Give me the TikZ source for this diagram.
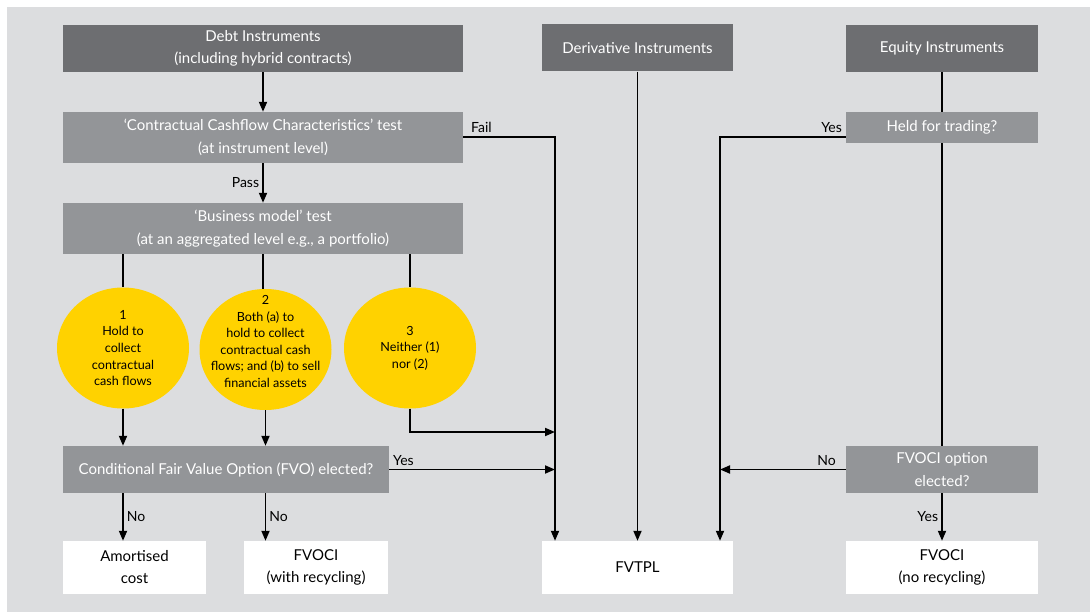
\documentclass[tikz,border=0pt]{standalone}
\usepackage{fontspec}
\setmainfont{Lato}
\usetikzlibrary{positioning,shapes.geometric,arrows.meta}
\definecolor{panelgrey}{HTML}{DCDDDF}
\definecolor{darkgrey}{HTML}{6D6E71}
\definecolor{midgrey}{HTML}{939598}
\definecolor{discyellow}{HTML}{FFD200}
\tikzset{
    head-box/.style = {fill=darkgrey, text=white, rectangle, align=center, inner sep=2pt, minimum height=47pt, font=\fontsize{15}{22}\selectfont},
    test-box/.style = {fill=midgrey, text=white, rectangle, align=center, inner sep=2pt, font=\fontsize{15}{23}\selectfont},
    result-box/.style = {fill=white, text=black, rectangle, align=center, inner sep=2pt, minimum height=53pt, font=\fontsize{15}{22}\selectfont},
    model-disc/.style = {ellipse, fill=discyellow, minimum width=132pt, minimum height=121pt, inner sep=0pt},
    disc-text/.style = {align=center, inner sep=0pt, font=\fontsize{12.6}{16.6}\selectfont},
    link/.style = {line width=1.8pt},
    flow/.style = {link, -{Triangle[length=10pt,width=8pt]}},
    tag/.style = {font=\fontsize{14}{16}\selectfont, inner sep=3pt},
}
\begin{document}
\begin{tikzpicture}[x=1pt,y=-1pt]
\useasboundingbox (0,0) rectangle (1090,612);
\fill[panelgrey] (7,7) rectangle (1090,612);

\node [head-box, minimum width=400pt] (debt) at (263,48.5) {Debt Instruments\\(including hybrid contracts)};
\node [test-box, minimum width=400pt, minimum height=51pt] (ccc) at (263,137.5) {‘Contractual Cashflow Characteristics’ test\\(at instrument level)};
\node [test-box, minimum width=400pt, minimum height=51pt] (bm) at (263,228.5) {‘Business model’ test\\(at an aggregated level e.g., a portfolio)};

\node [model-disc] (c1) at (123,348) {};
\node [model-disc] (c2) at (265.5,349.5) {};
\node [model-disc] (c3) at (410,348) {};
\node [disc-text] (c1-text) at (c1) {1\\Hold to\\collect\\contractual\\cash flows};
\node [disc-text] (c2-text) at ([yshift=8pt]c2.center) {2\\Both (a) to\\hold to collect\\contractual cash\\flows; and (b) to sell\\financial assets};
\node [disc-text] (c3-text) at (c3) {3\\Neither (1)\\nor (2)};

\node [test-box, minimum width=326pt, minimum height=47pt] (fvo) at (226,469.5) {Conditional Fair Value Option (FVO) elected?};
\node [result-box, minimum width=143pt] (amort) at (134.5,567.5) {Amortised\\cost};
\node [result-box, minimum width=144pt] (fvoci-r) at (316,567.5) {FVOCI\\(with recycling)};

\node [head-box, minimum width=191pt] (deriv) at (637.5,48) {Derivative Instruments};
\node [result-box, minimum width=191pt] (fvtpl) at (637.5,567.5) {FVTPL};

\node [head-box, minimum width=192pt] (equity) at (942,48.5) {Equity Instruments};
\node [test-box, minimum width=192pt, minimum height=31pt] (hft) at (942,127.5) {Held for trading?};
\node [test-box, minimum width=192pt, minimum height=47pt] (option) at (942,469.5) {FVOCI option\\elected?};
\node [result-box, minimum width=192pt] (fvoci-n) at (942,567.5) {FVOCI\\(no recycling)};

\coordinate (fail-turn) at (555,137);
\coordinate (yes-turn) at (720,137);
\coordinate (c3-bend) at (410,432);

\draw[flow] (debt) -- (ccc);
\draw[flow] (ccc) -- node[tag, left] {Pass} (bm);
\draw[link] (bm.south -| c1.north) -- (c1.north);
\draw[link] (bm.south) -- (bm.south |- c2.north);
\draw[link] (bm.south -| c3.north) -- (c3.north);
\draw[flow] (c1.south) -- (c1.south |- fvo.north);
\draw[flow] (c2.south) -- (c2.south |- fvo.north);
\draw[flow] (c1.south |- fvo.south) -- node[tag, right] {No} (c1.south |- amort.north);
\draw[flow] (c2.south |- fvo.south) -- node[tag, right] {No} (c2.south |- fvoci-r.north);
\draw[flow] (c3.south) -- (c3-bend) -- (fail-turn |- c3-bend);
\draw[flow] (fvo.east) -- node[tag, pos=0, anchor=south west] {Yes} (fail-turn |- fvo.east);
\draw[flow] (ccc.east |- fail-turn) -- node[tag, pos=0, anchor=south west, xshift=4pt] {Fail} (fail-turn) -- (fail-turn |- fvtpl.north);

\draw[flow] (deriv) -- (fvtpl);

\draw[link] (equity) -- (hft);
\draw[link] (hft) -- (option);
\draw[flow] (hft.west |- yes-turn) -- node[tag, pos=0, anchor=south east] {Yes} (yes-turn) -- (yes-turn |- fvtpl.north);
\draw[flow] (option.west) -- node[tag, pos=0, anchor=south east, xshift=-6pt] {No} (yes-turn |- option.west);
\draw[flow] (option) -- node[tag, left] {Yes} (fvoci-n);
\end{tikzpicture}
\end{document}
